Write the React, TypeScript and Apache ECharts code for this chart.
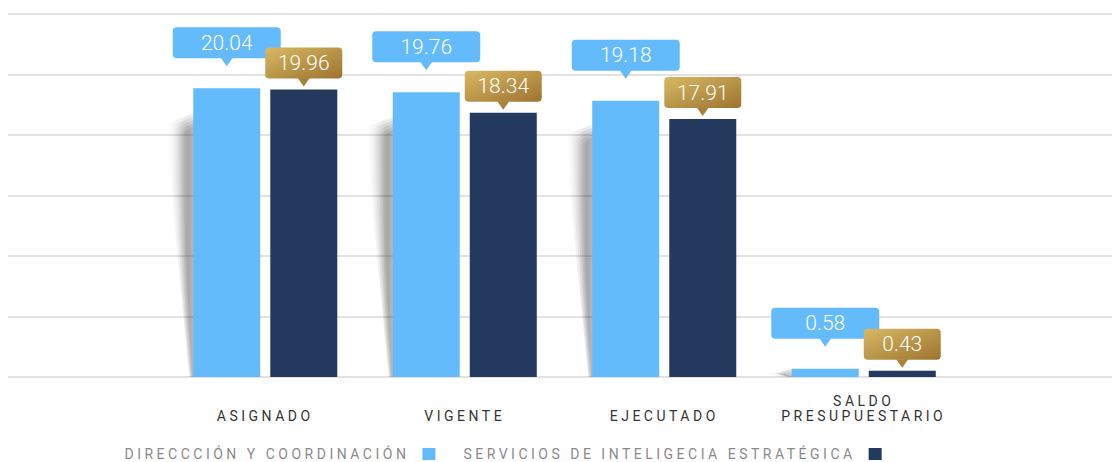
import React, { useEffect, useRef } from 'react';
import * as echarts from 'echarts';

const categories = ['ASIGNADO', 'VIGENTE', 'EJECUTADO', 'SALDO\nPRESUPUESTARIO'];
const seriesNames = ['DIRECCCIÓN Y COORDINACIÓN', 'SERVICIOS DE INTELIGECIA ESTRATÉGICA'];
const direccionValues = [20.04, 19.76, 19.18, 0.58];
const serviciosValues = [19.96, 18.34, 17.91, 0.43];
const axisMax = 25.2;
const axisInterval = 4.2;

const BLUE = '#63bbfb';
const NAVY = '#233a5e';
const BAR_W = 67;
const BAR_GAP = 10;
const HALF = (BAR_W + BAR_GAP) / 2;
const SPACED = 'Roboto, spaced';

const pairs = (vals: number[]) => vals.map((v, i) => [i, v]);

function calloutRenderer(kind: number) {
  return (_params: any, api: any) => {
    const v = api.value(1);
    const p = api.coord([api.value(0), v]);
    const cx = p[0] + (kind === 0 ? -HALF : HALF);
    const tip = p[1] - (kind === 0 ? 22 : 3);
    const w = kind === 0 ? 108 : 77;
    const h = 31;
    const ph = 8;
    const fill =
      kind === 0
        ? BLUE
        : new echarts.graphic.LinearGradient(0, 0, 1, 1, [
            { offset: 0, color: '#d7b963' },
            { offset: 1, color: '#9e7330' },
          ]);
    return {
      type: 'group',
      children: [
        {
          type: 'rect',
          shape: { x: cx - w / 2, y: tip - ph - h, width: w, height: h, r: 4 },
          style: { fill },
        },
        {
          type: 'polygon',
          shape: { points: [[cx - 6, tip - ph - 0.5], [cx + 6, tip - ph - 0.5], [cx, tip]] },
          style: { fill: kind === 0 ? BLUE : '#a98238' },
        },
        {
          type: 'text',
          style: {
            x: cx,
            y: tip - ph - h / 2,
            text: v.toFixed(2),
            fill: '#ffffff',
            fontSize: 21,
            fontWeight: 300,
            fontFamily: "'Roboto Light', Roboto",
            align: 'center',
            verticalAlign: 'middle',
            textAlign: 'center',
            textVerticalAlign: 'middle',
          },
        },
      ],
    };
  };
}

function shadowRenderer(_params: any, api: any) {
  const i = api.value(0);
  const v = api.value(1);
  const top = api.coord([i, v]);
  const base = api.coord([i, 0]);
  const L = top[0] - HALF - BAR_W / 2;
  const h = base[1] - top[1];
  const y0 = top[1] + h * 0.1;
  const mid = y0 + (base[1] - y0) * 0.4;
  const layers = [0, 3, 6, 9, 12].map((d) => ({
    type: 'polygon',
    shape: {
      points: [
        [L + 1, Math.max(top[1], y0 - 4 + d)],
        [L - 26 + d, Math.min(base[1], y0 + 6 + d)],
        [L - 19 + d * 0.8, mid],
        [L - 4 + d * 0.25, base[1]],
        [L + 1, base[1]],
      ],
    },
    style: {
      fill: new echarts.graphic.LinearGradient(0, 0, 1, 0, [
        { offset: 0, color: 'rgba(0,0,0,0)' },
        { offset: 0.65, color: 'rgba(0,0,0,0.085)' },
        { offset: 1, color: 'rgba(0,0,0,0.06)' },
      ]),
    },
  }));
  return { type: 'group', children: layers };
}

export default function App() {
  const ref = useRef<HTMLDivElement>(null);
  useEffect(() => {
    const chart = echarts.init(ref.current!, null, { renderer: 'svg' });
    chart.setOption({
      animation: false,
      backgroundColor: '#ffffff',
      grid: [
        { left: 8, right: 0, top: 14, bottom: 85 },
        { left: 165.5, right: 148.5, top: 14, bottom: 85 },
      ],
      legend: {
        data: seriesNames,
        left: 212,
        top: 447,
        padding: 0,
        itemWidth: 13,
        itemHeight: 12,
        itemGap: 154,
        align: 'right',
        icon: 'rect',
        selectedMode: false,
        textStyle: {
          fontFamily: SPACED,
          fontSize: 14,
          color: '#8a8a8a',
          padding: [0, 8, 0, 0],
        },
      },
      xAxis: [
        { type: 'category', gridIndex: 0, show: false, data: categories },
        {
          type: 'category',
          gridIndex: 1,
          data: categories,
          axisLine: { show: false },
          axisTick: { show: false },
          axisLabel: {
            color: '#333333',
            fontFamily: SPACED,
            fontSize: 14,
            lineHeight: 14.5,
            verticalAlign: 'bottom',
            margin: 46,
          },
        },
      ],
      yAxis: [
        {
          type: 'value',
          gridIndex: 0,
          min: 0,
          max: axisMax,
          interval: axisInterval,
          axisLabel: { show: false },
          axisLine: { show: false },
          axisTick: { show: false },
          splitLine: { show: true, lineStyle: { color: '#d9d9d9', width: 1.5 } },
        },
        {
          type: 'value',
          gridIndex: 1,
          min: 0,
          max: axisMax,
          interval: axisInterval,
          show: false,
        },
      ],
      series: [
        {
          type: 'custom',
          name: 'sombra',
          xAxisIndex: 1,
          yAxisIndex: 1,
          z: 1,
          renderItem: shadowRenderer,
          data: pairs(direccionValues),
          silent: true,
        },
        {
          type: 'bar',
          name: seriesNames[0],
          xAxisIndex: 1,
          yAxisIndex: 1,
          barWidth: BAR_W,
          barGap: '15%',
          z: 2,
          itemStyle: { color: BLUE },
          data: direccionValues,
        },
        {
          type: 'bar',
          name: seriesNames[1],
          xAxisIndex: 1,
          yAxisIndex: 1,
          barWidth: BAR_W,
          barGap: '15%',
          z: 2,
          itemStyle: { color: NAVY },
          data: serviciosValues,
        },
        {
          type: 'custom',
          name: 'etiqueta-1',
          xAxisIndex: 1,
          yAxisIndex: 1,
          z: 3,
          renderItem: calloutRenderer(0),
          data: pairs(direccionValues),
          silent: true,
        },
        {
          type: 'custom',
          name: 'etiqueta-2',
          xAxisIndex: 1,
          yAxisIndex: 1,
          z: 4,
          renderItem: calloutRenderer(1),
          data: pairs(serviciosValues),
          silent: true,
        },
      ],
    });
    return () => chart.dispose();
  }, []);
  return (
    <>
      <style>{'text[style*="spaced"]{letter-spacing:3.5px}'}</style>
      <div
        ref={ref}
        style={{ position: 'absolute', left: 0, top: 0, width: 1112, height: 462 }}
      />
    </>
  );
}
